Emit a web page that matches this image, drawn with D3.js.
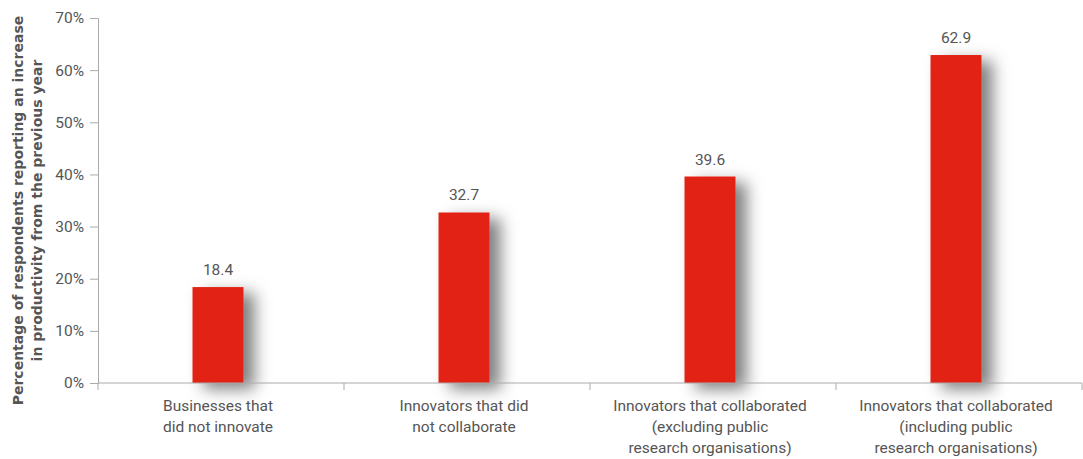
<!DOCTYPE html>
<html>
<head>
<meta charset="utf-8">
<script src="https://cdn.jsdelivr.net/npm/d3@7"></script>
<style>
  body { margin: 0; background: #fff; }
  text { font-family: Roboto, "Noto Sans", sans-serif; }
</style>
</head>
<body>
<svg id="chart" width="1083" height="459"></svg>
<script>
// Data
const categories = [
  ['Businesses that', 'did not innovate'],
  ['Innovators that did', 'not collaborate'],
  ['Innovators that collaborated', '(excluding public', 'research organisations)'],
  ['Innovators that collaborated', '(including public', 'research organisations)']
];
const values = [18.4, 32.7, 39.6, 62.9];
const yTicks = [0, 10, 20, 30, 40, 50, 60, 70];
const yTitle = ['Percentage of respondents reporting an increase', 'in productivity from the previous year'];

const width = 1083, height = 459;
const margin = { top: 18, right: 1, bottom: 76, left: 98 };
const innerWidth = width - margin.left - margin.right;
const innerHeight = height - margin.top - margin.bottom;

const svg = d3.select('#chart');

// soft drop shadow behind the bars
const defs = svg.append('defs');
const filter = defs.append('filter')
  .attr('id', 'shadow')
  .attr('x', '-60%').attr('y', '-20%')
  .attr('width', '300%').attr('height', '150%');
filter.append('feDropShadow')
  .attr('dx', 11).attr('dy', 6)
  .attr('stdDeviation', 8)
  .attr('flood-color', '#000')
  .attr('flood-opacity', 0.5);

const g = svg.append('g').attr('transform', `translate(${margin.left},${margin.top})`);

const x = d3.scaleBand().domain(d3.range(values.length)).range([0, innerWidth]).padding(0);
const y = d3.scaleLinear().domain([0, 70]).range([innerHeight, 0]);

const barW = 51;
const cx = i => x(i) + x.bandwidth() / 2 - 3;

// Bars
g.selectAll('rect.bar')
  .data(values)
  .enter()
  .append('rect')
  .attr('class', 'bar')
  .attr('x', (d, i) => cx(i) - barW / 2)
  .attr('y', d => y(d))
  .attr('width', barW)
  .attr('height', d => innerHeight - y(d))
  .attr('fill', '#e32416')
  .attr('filter', 'url(#shadow)');

// Value labels
g.selectAll('text.val')
  .data(values)
  .enter()
  .append('text')
  .attr('class', 'val')
  .attr('x', (d, i) => cx(i))
  .attr('y', d => y(d) - 12)
  .attr('text-anchor', 'middle')
  .attr('font-size', 15.5)
  .attr('fill', '#555')
  .text(d => d.toFixed(1));

// Y axis
const yAxis = g.append('g')
  .call(d3.axisLeft(y).tickValues(yTicks).tickFormat(d => d + '%').tickSize(8).tickPadding(6));
yAxis.select('.domain').attr('stroke', '#aaa');
yAxis.selectAll('.tick line').attr('stroke', '#aaa');
yAxis.selectAll('.tick text').attr('font-size', 15.5).attr('fill', '#555')
  .style('font-family', 'Roboto, sans-serif');

// X axis line + category separators
const xAxisG = g.append('g').attr('transform', `translate(0,${innerHeight})`);
xAxisG.append('line')
  .attr('x1', 0).attr('x2', innerWidth)
  .attr('stroke', '#aaa');
xAxisG.selectAll('line.sep')
  .data(d3.range(values.length + 1))
  .enter()
  .append('line')
  .attr('class', 'sep')
  .attr('x1', i => i < values.length ? x(i) : innerWidth)
  .attr('x2', i => i < values.length ? x(i) : innerWidth)
  .attr('y1', 0).attr('y2', 7)
  .attr('stroke', '#aaa');

// Category labels
categories.forEach((lines, i) => {
  const t = xAxisG.append('text')
    .attr('x', cx(i))
    .attr('y', 28)
    .attr('text-anchor', 'middle')
    .attr('font-size', 15.5)
    .attr('fill', '#555');
  lines.forEach((l, j) => {
    t.append('tspan')
      .attr('x', cx(i))
      .attr('dy', j === 0 ? 0 : 21)
      .text(l);
  });
});

// Y title
const title = svg.append('text')
  .attr('transform', `translate(23,${margin.top + innerHeight / 2 + 10}) rotate(-90)`)
  .attr('text-anchor', 'middle')
  .attr('font-size', 14)
  .attr('font-weight', 'bold')
  .attr('fill', '#555')
  .style('font-family', '"DejaVu Sans", sans-serif');
yTitle.forEach((l, j) => {
  title.append('tspan')
    .attr('x', 0)
    .attr('dy', j === 0 ? 0 : 19)
    .text(l);
});
</script>
</body>
</html>
